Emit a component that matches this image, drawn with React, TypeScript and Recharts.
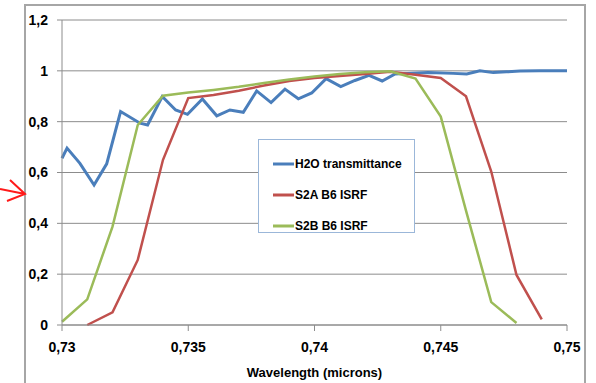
import React from "react";
import { LineChart, Line, XAxis, YAxis, CartesianGrid, Legend } from "recharts";

// H2O transmittance samples (wavelength in microns, transmittance)
const h2oWavelengths = [
  0.73, 0.7302, 0.73071, 0.73127, 0.73177, 0.73232, 0.73309, 0.73339, 0.73397, 0.7345,
  0.73497, 0.73556, 0.73613, 0.73665, 0.73718, 0.73771, 0.73828, 0.73883, 0.73936, 0.73989,
  0.74046, 0.74104, 0.7416, 0.74216, 0.74268, 0.74319, 0.7437, 0.7445, 0.74549, 0.74603,
  0.74655, 0.74708, 0.7476, 0.74814, 0.7489, 0.7494, 0.75,
];
const h2oValues = [
  0.656, 0.696, 0.636, 0.551, 0.634, 0.84, 0.794, 0.787, 0.899, 0.846,
  0.829, 0.889, 0.823, 0.846, 0.837, 0.921, 0.875, 0.928, 0.89, 0.913,
  0.969, 0.938, 0.962, 0.982, 0.96, 0.988, 0.99, 0.993, 0.99, 0.988,
  1.0, 0.993, 0.996, 0.999, 1.0, 1.0, 1.0,
];

// ISRF samples every nanometre
const isrfWavelengths = [
  0.73, 0.731, 0.732, 0.733, 0.734, 0.735, 0.736, 0.737, 0.738, 0.739, 0.74,
  0.741, 0.742, 0.743, 0.744, 0.745, 0.746, 0.747, 0.748, 0.749, 0.75,
];
const s2aValues = [
  null, 0.0, 0.05, 0.256, 0.65, 0.893, 0.905, 0.922, 0.942, 0.96, 0.972,
  0.98, 0.988, 0.996, 0.985, 0.972, 0.9, 0.604, 0.197, 0.022, null,
];
const s2bValues = [
  0.013, 0.101, 0.387, 0.787, 0.902, 0.915, 0.925, 0.937, 0.952, 0.966, 0.978,
  0.988, 0.994, 0.998, 0.97, 0.82, 0.45, 0.09, 0.008, null, null,
];

const xTicks = [0.73, 0.735, 0.74, 0.745, 0.75];
const yTicks = [0, 0.2, 0.4, 0.6, 0.8, 1, 1.2];

const h2oData = h2oWavelengths.map((w, i) => ({ w, v: h2oValues[i] }));
const s2aData = isrfWavelengths.map((w, i) => ({ w, v: s2aValues[i] }));
const s2bData = isrfWavelengths.map((w, i) => ({ w, v: s2bValues[i] }));

const FONT = "'Liberation Sans', Arial, sans-serif";
const tickStyle = { fill: "#000", fontSize: 14, fontWeight: 700, fontFamily: FONT };
const comma = (v: number) => String(v).replace(".", ",");

const LegendBox = (props: any) => {
  const items = props.payload || [];
  return (
    <div
      style={{
        width: 157,
        height: 94,
        boxSizing: "border-box",
        border: "1px solid #9bb7d9",
        background: "#fff",
        paddingTop: 8,
        paddingLeft: 14,
      }}
    >
      {items.map((it: any) => (
        <div key={it.value} style={{ display: "flex", alignItems: "center", height: 31 }}>
          <svg width={21} height={6}>
            <line x1={0} y1={3} x2={21} y2={3} stroke={it.color} strokeWidth={3} />
          </svg>
          <span style={{ fontFamily: FONT, fontSize: 12, fontWeight: 700, color: "#000", marginLeft: 1 }}>
            {it.value}
          </span>
        </div>
      ))}
    </div>
  );
};

export default function App() {
  return (
    <div style={{ position: "absolute", left: 0, top: 0, width: 596, height: 383, background: "#fff", overflow: "hidden" }}>
      <div
        style={{
          position: "absolute",
          left: 24,
          top: 4,
          width: 562,
          height: 420,
          border: "2px solid #a6a6a6",
          boxSizing: "border-box",
        }}
      />
      <svg style={{ position: "absolute", left: 0, top: 175 }} width={30} height={35}>
        <path d="M0 14 L25 19 M10 5 L25 19 L7 26" stroke="#ff1a1a" strokeWidth={2} fill="none" />
      </svg>
      <div style={{ position: "absolute", left: 0, top: 0 }}>
        <LineChart width={596} height={383} margin={{ top: 20, right: 29, bottom: 8, left: 0 }}>
          <CartesianGrid horizontal vertical={false} stroke="#8c8c8c" />
          <XAxis
            type="number"
            dataKey="w"
            domain={[0.73, 0.75]}
            ticks={xTicks}
            tickFormatter={comma}
            tick={tickStyle}
            tickSize={6}
            tickMargin={11}
            height={50}
            stroke="#8c8c8c"
            allowDuplicatedCategory={false}
            label={{
              value: "Wavelength (microns)",
              position: "insideBottom",
              offset: -2,
              style: { fill: "#000", fontSize: 13, fontWeight: 700, fontFamily: FONT },
            }}
          />
          <YAxis
            type="number"
            domain={[0, 1.2]}
            ticks={yTicks}
            tickFormatter={comma}
            tick={tickStyle}
            tickSize={5}
            tickMargin={9}
            width={62}
            stroke="#8c8c8c"
          />
          <Legend
            layout="vertical"
            align="center"
            verticalAlign="middle"
            content={<LegendBox />}
            wrapperStyle={{ left: 258, top: 139, width: 157, height: 94 }}
          />
          <Line
            data={h2oData}
            dataKey="v"
            name="H2O transmittance"
            stroke="#4a7ebb"
            strokeWidth={3}
            dot={false}
            type="linear"
            isAnimationActive={false}
          />
          <Line
            data={s2aData}
            dataKey="v"
            name="S2A B6 ISRF"
            stroke="#c0504d"
            strokeWidth={2.5}
            dot={false}
            type="linear"
            isAnimationActive={false}
          />
          <Line
            data={s2bData}
            dataKey="v"
            name="S2B B6 ISRF"
            stroke="#9bbb59"
            strokeWidth={2.5}
            dot={false}
            type="linear"
            isAnimationActive={false}
          />
        </LineChart>
      </div>
    </div>
  );
}
